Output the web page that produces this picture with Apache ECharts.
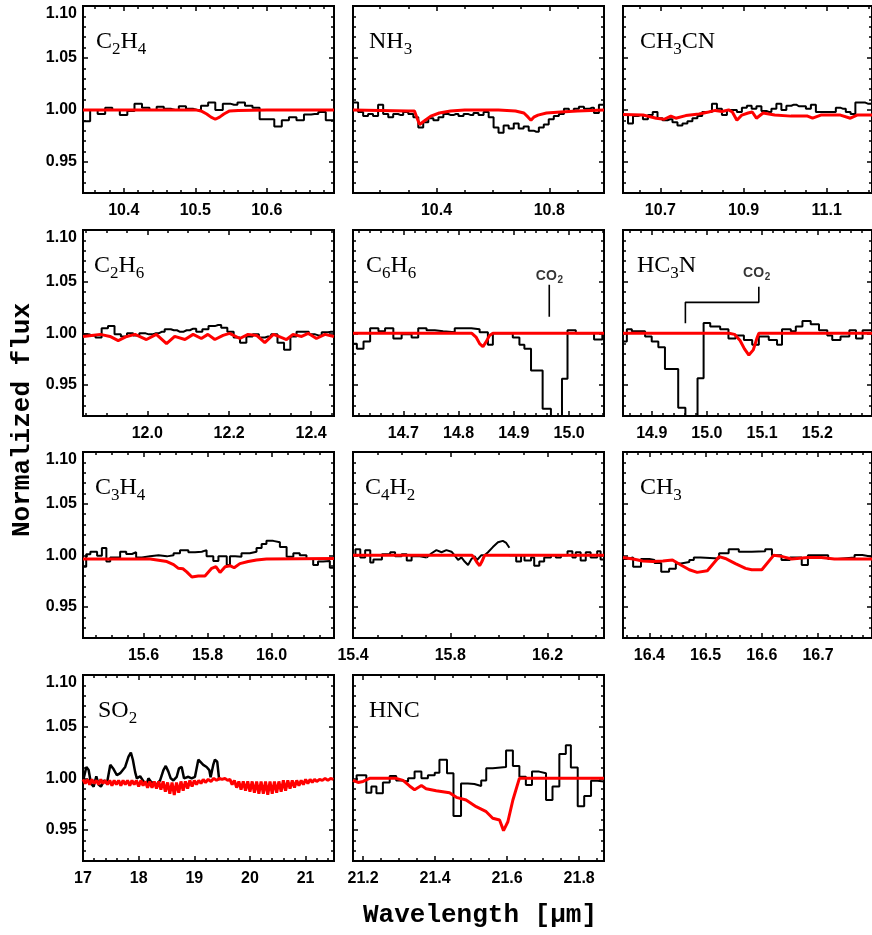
<!DOCTYPE html>
<html>
<head>
<meta charset="utf-8">
<script src="https://cdn.jsdelivr.net/npm/echarts@6/dist/echarts.min.js"></script>
<style>
html, body { margin: 0; padding: 0; background: #fff; }
#chart { width: 872px; height: 935px; }
</style>
</head>
<body>
<div id="chart"></div>
<script>
// ---------- shared flux axis ----------
const yRange = [0.92, 1.10];
const yTicks = [0.95, 1.00, 1.05, 1.10];

// ---------- C2H4 ----------
const c2h4Range = [10.343, 10.694];
const c2h4Ticks = [10.4, 10.5, 10.6];
const c2h4Wave = [10.343, 10.348, 10.358, 10.369, 10.379, 10.389, 10.400, 10.410, 10.420, 10.431, 10.441, 10.451, 10.461, 10.472, 10.482, 10.492, 10.503, 10.513, 10.523, 10.533, 10.544, 10.554, 10.564, 10.575, 10.585, 10.595, 10.605, 10.616, 10.626, 10.636, 10.647, 10.657, 10.667, 10.677, 10.688, 10.694];
const c2h4Flux = [0.989, 0.989, 1.000, 0.996, 1.002, 1.000, 0.995, 0.999, 1.006, 1.002, 1.000, 1.003, 1.001, 1.000, 1.0035, 1.001, 1.000, 1.004, 1.007, 1.000, 1.006, 1.005, 1.007, 1.004, 1.002, 0.991, 0.991, 0.984, 0.990, 0.993, 0.990, 0.9955, 0.996, 0.998, 0.990, 0.990];
const c2h4ModelWave = [10.343, 10.500, 10.508, 10.516, 10.522, 10.528, 10.534, 10.540, 10.548, 10.560, 10.600, 10.694];
const c2h4Model = [1.000, 1.000, 0.999, 0.996, 0.993, 0.991, 0.993, 0.996, 0.999, 0.9995, 1.000, 1.000];

// ---------- NH3 ----------
const nh3Range = [10.104, 10.994];
const nh3Ticks = [10.4, 10.8];
const nh3Wave = [10.104, 10.113, 10.131, 10.149, 10.166, 10.184, 10.202, 10.220, 10.238, 10.255, 10.273, 10.291, 10.309, 10.327, 10.344, 10.362, 10.380, 10.398, 10.416, 10.433, 10.451, 10.469, 10.487, 10.505, 10.522, 10.540, 10.558, 10.576, 10.594, 10.611, 10.629, 10.647, 10.665, 10.683, 10.700, 10.718, 10.736, 10.754, 10.772, 10.789, 10.807, 10.825, 10.843, 10.861, 10.878, 10.896, 10.914, 10.932, 10.950, 10.967, 10.985, 10.994];
const nh3Flux = [1.007, 1.007, 0.998, 0.994, 0.996, 0.994, 1.005, 0.996, 0.993, 0.996, 0.995, 0.998, 0.996, 0.993, 0.983, 0.988, 0.992, 0.990, 0.993, 0.996, 0.995, 0.996, 0.994, 0.996, 0.995, 0.997, 0.995, 0.998, 0.993, 0.983, 0.978, 0.985, 0.982, 0.987, 0.982, 0.984, 0.980, 0.979, 0.983, 0.986, 0.991, 0.994, 0.996, 1.001, 0.999, 1.001, 1.003, 1.001, 1.002, 0.997, 1.005, 1.005];
const nh3ModelWave = [10.104, 10.200, 10.300, 10.322, 10.330, 10.340, 10.347, 10.360, 10.380, 10.410, 10.450, 10.500, 10.620, 10.680, 10.710, 10.725, 10.735, 10.745, 10.760, 10.790, 10.840, 10.900, 10.994];
const nh3Model = [1.000, 0.9995, 0.999, 0.999, 0.993, 0.986, 0.985, 0.990, 0.994, 0.997, 0.999, 1.000, 1.000, 0.999, 0.997, 0.993, 0.990, 0.993, 0.995, 0.997, 0.998, 0.999, 1.000];

// ---------- CH3CN ----------
const ch3cnRange = [10.610, 11.209];
const ch3cnTicks = [10.7, 10.9, 11.1];
const ch3cnWave = [10.610, 10.616, 10.628, 10.640, 10.652, 10.664, 10.676, 10.687, 10.699, 10.711, 10.723, 10.735, 10.747, 10.759, 10.771, 10.783, 10.795, 10.806, 10.818, 10.830, 10.842, 10.854, 10.866, 10.878, 10.890, 10.902, 10.914, 10.925, 10.937, 10.949, 10.961, 10.973, 10.985, 10.997, 11.009, 11.021, 11.033, 11.044, 11.056, 11.068, 11.080, 11.092, 11.104, 11.116, 11.128, 11.140, 11.152, 11.163, 11.175, 11.187, 11.199, 11.209];
const ch3cnFlux = [0.995, 0.995, 0.987, 0.994, 0.995, 0.991, 0.995, 0.998, 0.992, 0.990, 0.991, 0.988, 0.985, 0.987, 0.989, 0.992, 0.994, 0.998, 0.998, 1.006, 1.001, 0.995, 1.000, 1.000, 0.998, 1.002, 1.004, 1.001, 1.0035, 0.999, 0.998, 1.001, 1.006, 1.000, 1.004, 1.005, 1.0035, 1.0035, 1.001, 1.005, 0.998, 0.998, 0.998, 0.998, 1.002, 1.001, 0.998, 0.996, 1.007, 1.007, 1.006, 1.006];
const ch3cnModelWave = [10.610, 10.658, 10.690, 10.709, 10.725, 10.737, 10.761, 10.793, 10.816, 10.832, 10.848, 10.864, 10.873, 10.884, 10.896, 10.911, 10.921, 10.931, 10.947, 10.975, 11.014, 11.054, 11.066, 11.086, 11.133, 11.157, 11.173, 11.209];
const ch3cnModel = [0.9955, 0.995, 0.992, 0.991, 0.994, 0.992, 0.9945, 0.996, 0.998, 0.9995, 0.9985, 1.000, 0.998, 0.990, 0.995, 0.997, 0.998, 0.992, 0.997, 0.995, 0.994, 0.994, 0.992, 0.995, 0.995, 0.992, 0.995, 0.995];

// ---------- C2H6 ----------
const c2h6Range = [11.843, 12.456];
const c2h6Ticks = [12.0, 12.2, 12.4];
const c2h6Wave = [11.843, 11.851, 11.866, 11.881, 11.896, 11.912, 11.928, 11.943, 11.958, 11.973, 11.988, 12.004, 12.020, 12.035, 12.050, 12.065, 12.080, 12.096, 12.112, 12.127, 12.142, 12.157, 12.173, 12.188, 12.203, 12.219, 12.234, 12.250, 12.265, 12.280, 12.295, 12.310, 12.326, 12.342, 12.357, 12.372, 12.387, 12.402, 12.418, 12.434, 12.449, 12.456];
const c2h6Flux = [0.999, 0.999, 0.998, 0.996, 1.005, 1.007, 0.999, 0.997, 1.000, 0.998, 1.000, 0.999, 1.000, 1.0015, 1.004, 1.003, 1.0015, 1.003, 1.0045, 1.0015, 1.004, 1.007, 1.008, 1.0055, 1.0015, 0.996, 0.991, 0.997, 0.999, 0.996, 0.997, 0.999, 0.991, 0.984, 0.997, 1.0015, 1.0015, 0.999, 0.998, 1.001, 1.0015, 1.0015];
const c2h6ModelWave = [11.843, 11.864, 11.885, 11.909, 11.929, 11.950, 11.970, 11.998, 12.022, 12.047, 12.067, 12.092, 12.112, 12.132, 12.148, 12.165, 12.185, 12.201, 12.226, 12.246, 12.267, 12.287, 12.308, 12.327, 12.340, 12.356, 12.377, 12.393, 12.413, 12.434, 12.456];
const c2h6Model = [0.997, 0.998, 0.999, 0.997, 0.993, 0.997, 0.999, 0.994, 0.999, 0.990, 0.997, 0.994, 0.999, 0.995, 0.999, 0.994, 0.998, 1.000, 0.995, 0.999, 0.998, 0.991, 0.999, 0.996, 0.994, 0.999, 0.997, 1.000, 0.995, 0.999, 0.997];

// ---------- C6H6 ----------
const c6h6Range = [14.609, 15.063];
const c6h6Ticks = [14.7, 14.8, 14.9, 15.0];
const c6h6Wave = [14.609, 14.616, 14.628, 14.640, 14.655, 14.667, 14.682, 14.697, 14.715, 14.727, 14.742, 14.757, 14.772, 14.793, 14.823, 14.838, 14.853, 14.862, 14.898, 14.910, 14.919, 14.931, 14.952, 14.967, 14.987, 14.997, 15.012, 15.045, 15.060, 15.063];
const c6h6Flux = [0.990, 0.985, 0.992, 1.005, 1.002, 1.005, 0.995, 0.999, 0.996, 1.005, 1.003, 1.002, 1.001, 1.005, 1.004, 1.001, 0.989, 1.000, 0.996, 0.989, 0.985, 0.964, 0.927, 0.880, 0.956, 1.003, 1.000, 0.994, 1.000, 1.000];
const c6h6ModelWave = [14.609, 14.824, 14.832, 14.838, 14.844, 14.850, 14.856, 14.862, 15.063];
const c6h6Model = [1.000, 1.000, 0.996, 0.990, 0.987, 0.992, 0.998, 1.000, 1.000];
const c6h6Co2Wave = [14.964, 14.964];
const c6h6Co2Flux = [1.016, 1.047];
const c6h6Co2Label = [14.964, 1.055];

// ---------- HC3N ----------
const hc3nRange = [14.848, 15.299];
const hc3nTicks = [14.9, 15.0, 15.1, 15.2];
const hc3nWave = [14.848, 14.855, 14.864, 14.888, 14.900, 14.912, 14.924, 14.948, 14.961, 14.983, 14.994, 15.006, 15.024, 15.039, 15.052, 15.067, 15.082, 15.094, 15.112, 15.127, 15.136, 15.152, 15.161, 15.173, 15.188, 15.203, 15.218, 15.227, 15.242, 15.258, 15.270, 15.282, 15.299];
const hc3nFlux = [0.992, 1.004, 1.002, 0.997, 0.992, 0.9865, 0.9655, 0.928, 0.880, 0.9565, 1.010, 1.0065, 1.004, 0.995, 0.998, 0.9935, 0.989, 0.997, 0.9935, 0.989, 1.004, 1.002, 1.0065, 1.012, 1.0087, 1.003, 0.998, 0.9935, 0.997, 1.003, 0.995, 1.003, 1.003];
const hc3nModelWave = [14.848, 15.040, 15.050, 15.060, 15.068, 15.076, 15.084, 15.091, 15.094, 15.299];
const hc3nModel = [1.000, 1.000, 0.999, 0.993, 0.985, 0.979, 0.984, 0.996, 1.000, 1.000];
const hc3nCo2Wave = [14.961, 14.961, 15.094, 15.094];
const hc3nCo2Flux = [1.0097, 1.030, 1.030, 1.045];
const hc3nCo2Label = [15.090, 1.058];

// ---------- C3H4 ----------
const c3h4Range = [15.411, 16.195];
const c3h4Ticks = [15.6, 15.8, 16.0];
const c3h4Wave = [15.411, 15.421, 15.434, 15.455, 15.470, 15.484, 15.496, 15.527, 15.546, 15.564, 15.577, 15.595, 15.620, 15.647, 15.673, 15.694, 15.714, 15.740, 15.761, 15.782, 15.797, 15.818, 15.834, 15.860, 15.870, 15.886, 15.906, 15.932, 15.953, 15.969, 15.984, 16.005, 16.026, 16.047, 16.068, 16.088, 16.109, 16.130, 16.145, 16.161, 16.182, 16.195];
const c3h4Flux = [0.989, 1.001, 1.0035, 0.9995, 1.007, 0.994, 0.998, 1.0035, 1.0013, 1.003, 0.998, 0.999, 1.000, 0.999, 1.000, 1.002, 1.005, 1.003, 1.0035, 1.005, 0.999, 0.9945, 0.999, 0.9906, 0.999, 0.9987, 1.002, 1.0035, 1.007, 1.011, 1.014, 1.0126, 1.008, 0.9987, 1.002, 1.000, 0.9965, 0.9906, 0.994, 0.9945, 0.988, 0.988];
const c3h4ModelWave = [15.411, 15.621, 15.642, 15.673, 15.694, 15.709, 15.723, 15.735, 15.751, 15.771, 15.792, 15.813, 15.826, 15.839, 15.855, 15.870, 15.883, 15.901, 15.927, 15.953, 15.984, 16.195];
const c3h4Model = [0.9965, 0.9965, 0.9955, 0.994, 0.991, 0.9874, 0.987, 0.984, 0.979, 0.980, 0.980, 0.9874, 0.989, 0.9835, 0.989, 0.990, 0.988, 0.992, 0.994, 0.9955, 0.9965, 0.997];

// ---------- C4H2 ----------
const c4h2Range = [15.400, 16.432];
const c4h2Ticks = [15.4, 15.8, 16.2];
const c4h2BlueWave = [15.400, 15.410, 15.430, 15.450, 15.471, 15.484, 15.519, 15.553, 15.573, 15.600, 15.621, 15.641, 15.675, 15.703];
const c4h2BlueFlux = [1.000, 1.006, 0.998, 1.005, 0.993, 0.996, 1.001, 1.003, 0.999, 1.001, 0.995, 0.999, 0.998, 0.998];
const c4h2MidWave = [15.703, 15.723, 15.743, 15.764, 15.784, 15.805, 15.818, 15.832, 15.846, 15.859, 15.873, 15.887, 15.900, 15.910, 15.927, 15.941, 15.955, 15.975, 15.996, 16.016, 16.030, 16.043];
const c4h2MidFlux = [0.998, 1.002, 1.005, 1.003, 1.005, 1.0035, 1.000, 0.9955, 0.998, 0.994, 0.9906, 0.9965, 0.999, 0.9955, 1.000, 1.000, 1.003, 1.008, 1.0126, 1.014, 1.012, 1.0074];
const c4h2RedWave = [16.043, 16.071, 16.091, 16.105, 16.132, 16.145, 16.166, 16.186, 16.214, 16.234, 16.255, 16.282, 16.302, 16.316, 16.336, 16.357, 16.377, 16.404, 16.418, 16.432];
const c4h2RedFlux = [1.000, 0.994, 1.000, 0.995, 0.998, 0.990, 0.994, 0.998, 1.000, 0.998, 1.000, 1.004, 0.998, 1.003, 0.995, 1.003, 0.998, 1.004, 0.996, 0.996];
const c4h2ModelWave = [15.400, 15.890, 15.900, 15.910, 15.921, 15.930, 15.941, 16.432];
const c4h2Model = [1.000, 1.000, 0.997, 0.993, 0.990, 0.994, 1.000, 1.000];

// ---------- CH3 ----------
const ch3Range = [16.353, 16.796];
const ch3Ticks = [16.4, 16.5, 16.6, 16.7];
const ch3Wave = [16.353, 16.359, 16.371, 16.385, 16.400, 16.409, 16.421, 16.435, 16.447, 16.456, 16.471, 16.479, 16.491, 16.524, 16.541, 16.559, 16.582, 16.606, 16.618, 16.635, 16.650, 16.671, 16.682, 16.718, 16.735, 16.765, 16.779, 16.796];
const ch3Flux = [0.9965, 0.998, 0.989, 0.9965, 0.9955, 0.9925, 0.984, 0.987, 0.992, 0.9935, 0.9955, 0.998, 0.997, 1.002, 1.006, 1.0035, 1.004, 1.006, 1.000, 0.9955, 0.998, 0.9906, 1.000, 0.9965, 0.998, 1.0003, 0.9987, 0.9987];
const ch3ModelWave = [16.353, 16.371, 16.388, 16.406, 16.424, 16.441, 16.456, 16.471, 16.485, 16.503, 16.524, 16.535, 16.553, 16.571, 16.582, 16.600, 16.621, 16.635, 16.653, 16.682, 16.706, 16.729, 16.753, 16.796];
const ch3Model = [0.998, 0.9965, 0.9945, 0.994, 0.9945, 0.9955, 0.9906, 0.986, 0.9835, 0.985, 0.9987, 0.997, 0.992, 0.9874, 0.986, 0.986, 1.000, 0.999, 0.9965, 0.998, 0.998, 0.9965, 0.9965, 0.9965];

// ---------- SO2 ----------
const so2Range = [17.0, 21.51];
const so2Ticks = [17, 18, 19, 20, 21];
const so2Wave = [17.000, 17.060, 17.101, 17.143, 17.191, 17.239, 17.281, 17.322, 17.382, 17.430, 17.490, 17.549, 17.609, 17.669, 17.758, 17.818, 17.860, 17.896, 17.937, 17.967, 18.027, 18.087, 18.146, 18.176, 18.218, 18.266, 18.325, 18.385, 18.445, 18.487, 18.534, 18.576, 18.624, 18.684, 18.725, 18.773, 18.815, 18.893, 18.952, 19.012, 19.072, 19.101, 19.161, 19.221, 19.269, 19.293, 19.340, 19.370, 19.412, 19.448];
const so2Flux = [0.997, 1.011, 1.008, 0.995, 0.992, 1.002, 0.994, 0.992, 0.998, 0.995, 1.013, 1.009, 1.003, 1.005, 1.011, 1.021, 1.025, 1.018, 1.006, 1.000, 1.002, 0.997, 0.995, 1.000, 0.997, 0.995, 0.994, 0.998, 1.008, 1.012, 1.0065, 1.000, 0.998, 1.0015, 1.0097, 1.011, 1.000, 1.0015, 1.000, 1.0015, 1.018, 1.019, 1.013, 1.011, 1.008, 1.001, 1.013, 1.018, 1.016, 0.998];
const so2ModelWave = [17.00, 17.04, 17.08, 17.12, 17.16, 17.20, 17.24, 17.28, 17.32, 17.36, 17.40, 17.44, 17.48, 17.52, 17.56, 17.60, 17.64, 17.68, 17.72, 17.76, 17.80, 17.84, 17.88, 17.92, 17.96, 18.00, 18.04, 18.08, 18.12, 18.16, 18.20, 18.24, 18.28, 18.32, 18.36, 18.40, 18.44, 18.48, 18.52, 18.56, 18.60, 18.64, 18.68, 18.72, 18.76, 18.80, 18.84, 18.88, 18.92, 18.96, 19.00, 19.04, 19.08, 19.12, 19.16, 19.20, 19.25, 19.30, 19.35, 19.40, 19.45, 19.50, 19.55, 19.60, 19.64, 19.68, 19.72, 19.76, 19.80, 19.84, 19.88, 19.92, 19.96, 20.00, 20.04, 20.08, 20.12, 20.16, 20.20, 20.24, 20.28, 20.32, 20.36, 20.40, 20.44, 20.48, 20.52, 20.56, 20.60, 20.64, 20.68, 20.72, 20.76, 20.80, 20.84, 20.88, 20.92, 20.96, 21.00, 21.04, 21.08, 21.12, 21.16, 21.20, 21.25, 21.30, 21.35, 21.40, 21.45, 21.50];
const so2Model = [0.999, 0.995, 0.999, 0.994, 0.999, 0.995, 0.998, 0.994, 0.999, 0.995, 0.998, 0.994, 0.998, 0.993, 0.998, 0.994, 0.998, 0.993, 0.998, 0.994, 0.998, 0.993, 0.998, 0.994, 0.998, 0.992, 0.998, 0.993, 0.997, 0.991, 0.997, 0.991, 0.997, 0.990, 0.997, 0.989, 0.997, 0.987, 0.996, 0.985, 0.996, 0.984, 0.996, 0.986, 0.997, 0.988, 0.997, 0.990, 0.998, 0.992, 0.998, 0.994, 0.998, 0.995, 0.999, 0.996, 0.999, 0.997, 1.000, 0.998, 1.000, 0.999, 1.000, 0.998, 0.999, 0.994, 0.998, 0.991, 0.997, 0.989, 0.997, 0.988, 0.997, 0.987, 0.997, 0.986, 0.997, 0.985, 0.997, 0.985, 0.997, 0.984, 0.997, 0.985, 0.997, 0.986, 0.997, 0.987, 0.998, 0.988, 0.998, 0.990, 0.998, 0.991, 0.998, 0.993, 0.998, 0.994, 0.999, 0.995, 0.999, 0.996, 0.999, 0.997, 0.999, 0.998, 1.000, 0.998, 1.000, 0.999];

// ---------- HNC ----------
const hncRange = [21.172, 21.869];
const hncTicks = [21.2, 21.4, 21.6, 21.8];
const hncWave = [21.172, 21.182, 21.209, 21.223, 21.237, 21.255, 21.274, 21.292, 21.306, 21.325, 21.343, 21.362, 21.380, 21.399, 21.412, 21.433, 21.451, 21.472, 21.491, 21.509, 21.528, 21.542, 21.560, 21.597, 21.616, 21.634, 21.652, 21.669, 21.689, 21.708, 21.726, 21.745, 21.763, 21.777, 21.796, 21.814, 21.833, 21.851, 21.869];
const hncFlux = [0.997, 1.003, 0.986, 0.992, 0.9855, 0.996, 1.0023, 0.998, 0.997, 1.000, 1.0065, 1.000, 1.003, 1.0055, 1.018, 1.005, 0.9635, 0.995, 0.9945, 0.9926, 0.998, 1.0097, 1.011, 1.027, 1.012, 1.0016, 0.9935, 1.0065, 1.005, 0.979, 0.992, 1.0235, 1.032, 1.0106, 0.973, 0.983, 0.9977, 0.997, 0.997];
const hncModelWave = [21.172, 21.186, 21.200, 21.218, 21.292, 21.311, 21.329, 21.343, 21.362, 21.375, 21.403, 21.440, 21.459, 21.486, 21.514, 21.542, 21.560, 21.579, 21.590, 21.602, 21.616, 21.634, 21.869];
const hncModel = [0.998, 0.996, 0.997, 1.000, 1.000, 0.998, 0.9926, 0.989, 0.993, 0.990, 0.988, 0.986, 0.9816, 0.979, 0.9726, 0.9677, 0.9613, 0.9597, 0.9494, 0.958, 0.979, 1.000, 1.000];

// ---------- panel layout ----------
const colLeft = [83, 353, 623];
const rowTop = [6, 230, 452, 675];
const rowHeight = [187, 186, 186, 186];
const panelWidth = 251;

// molecule names: "_" marks the following digit as a subscript
const panels = [
  { name: 'C_2H_4', labelX: 96, col: 0, row: 0, range: c2h4Range, ticks: c2h4Ticks, minor: 0.02, digits: 1,
    lines: [[c2h4Wave, c2h4Flux, 'middle']], model: [c2h4ModelWave, c2h4Model] },
  { name: 'NH_3', labelX: 369, col: 1, row: 0, range: nh3Range, ticks: nh3Ticks, minor: 0.1, digits: 1,
    lines: [[nh3Wave, nh3Flux, 'middle']], model: [nh3ModelWave, nh3Model] },
  { name: 'CH_3CN', labelX: 640, col: 2, row: 0, range: ch3cnRange, ticks: ch3cnTicks, minor: 0.05, digits: 1,
    lines: [[ch3cnWave, ch3cnFlux, 'middle']], model: [ch3cnModelWave, ch3cnModel] },
  { name: 'C_2H_6', labelX: 94, col: 0, row: 1, range: c2h6Range, ticks: c2h6Ticks, minor: 0.05, digits: 1,
    lines: [[c2h6Wave, c2h6Flux, 'middle']], model: [c2h6ModelWave, c2h6Model] },
  { name: 'C_6H_6', labelX: 366, col: 1, row: 1, range: c6h6Range, ticks: c6h6Ticks, minor: 0.02, digits: 1,
    lines: [[c6h6Wave, c6h6Flux, 'end']], model: [c6h6ModelWave, c6h6Model],
    co2: { wave: c6h6Co2Wave, flux: c6h6Co2Flux, label: c6h6Co2Label } },
  { name: 'HC_3N', labelX: 637, col: 2, row: 1, range: hc3nRange, ticks: hc3nTicks, minor: 0.02, digits: 1,
    lines: [[hc3nWave, hc3nFlux, 'end']], model: [hc3nModelWave, hc3nModel],
    co2: { wave: hc3nCo2Wave, flux: hc3nCo2Flux, label: hc3nCo2Label } },
  { name: 'C_3H_4', labelX: 95, col: 0, row: 2, range: c3h4Range, ticks: c3h4Ticks, minor: 0.05, digits: 1,
    lines: [[c3h4Wave, c3h4Flux, 'end']], model: [c3h4ModelWave, c3h4Model] },
  { name: 'C_4H_2', labelX: 365, col: 1, row: 2, range: c4h2Range, ticks: c4h2Ticks, minor: 0.1, digits: 1,
    lines: [[c4h2BlueWave, c4h2BlueFlux, 'end'], [c4h2MidWave, c4h2MidFlux, false], [c4h2RedWave, c4h2RedFlux, 'end']],
    model: [c4h2ModelWave, c4h2Model] },
  { name: 'CH_3', labelX: 640, col: 2, row: 2, range: ch3Range, ticks: ch3Ticks, minor: 0.02, digits: 1,
    lines: [[ch3Wave, ch3Flux, 'end']], model: [ch3ModelWave, ch3Model] },
  { name: 'SO_2', labelX: 98, col: 0, row: 3, range: so2Range, ticks: so2Ticks, minor: 0.2, digits: 0,
    lines: [[so2Wave, so2Flux, false]], model: [so2ModelWave, so2Model], blackWidth: 2.5 },
  { name: 'HNC', labelX: 369, col: 1, row: 3, range: hncRange, ticks: hncTicks, minor: 0.05, digits: 1,
    lines: [[hncWave, hncFlux, 'end']], model: [hncModelWave, hncModel] }
];

// ---------- helpers ----------
const tickFont = { color: '#000', fontFamily: 'Liberation Sans', fontWeight: 'bold', fontSize: 16 };
const nameFont = { family: 'Liberation Serif', main: 24, sub: 17, subDrop: 8 };

const measureCtx = document.createElement('canvas').getContext('2d');
function textWidth(str, size) {
  measureCtx.font = size + 'px "' + nameFont.family + '"';
  return measureCtx.measureText(str).width;
}

// split "C_2H_4" into runs of normal text and subscript digits
function formulaRuns(str) {
  const runs = [];
  for (let i = 0; i < str.length; i++) {
    if (str[i] === '_') { runs.push({ t: str[i + 1], sub: true }); i++; }
    else if (runs.length && !runs[runs.length - 1].sub) runs[runs.length - 1].t += str[i];
    else runs.push({ t: str[i], sub: false });
  }
  return runs;
}

function minorValues(range, step) {
  const out = [];
  const start = Math.ceil(range[0] / step - 1e-9);
  const end = Math.floor(range[1] / step + 1e-9);
  for (let k = start; k <= end; k++) out.push(+(k * step).toFixed(4));
  return out;
}

function makeAxis(gridIndex, position, range, values, len, showLabels, formatter, isY) {
  const ax = {
    type: 'value', gridIndex, position, min: range[0], max: range[1],
    axisLine: { show: false, onZero: false },
    splitLine: { show: false },
    axisTick: { show: true, inside: true, length: len, customValues: values,
                lineStyle: { color: '#000', width: 1.5 } },
    axisLabel: Object.assign({ show: showLabels, customValues: values, formatter,
                margin: isY ? 6 : 10 }, tickFont)
  };
  if (isY) ax.axisLabel.verticalAlignMaxLabel = 'top';
  return ax;
}

function pairs(xs, ys) { return xs.map((x, i) => [x, ys[i]]); }

const co2Main = { fontFamily: 'Liberation Sans', fontWeight: 'bold', fontSize: 14, color: '#000' };
const co2Sub = { fontFamily: 'Liberation Sans', fontWeight: 'bold', fontSize: 10, color: '#000' };

const grids = [], xAxes = [], yAxes = [], series = [], graphics = [];

panels.forEach((p, gi) => {
  const left = colLeft[p.col], top = rowTop[p.row], height = rowHeight[p.row];
  grids.push({ left, top, width: panelWidth, height, show: true,
               borderColor: '#000', borderWidth: 2, backgroundColor: 'transparent' });

  const xFmt = v => v.toFixed(p.digits);
  const yFmt = v => v.toFixed(2);
  const xMinor = minorValues(p.range, p.minor);
  const yMinor = minorValues(yRange, 0.01);

  const xi = xAxes.length;
  xAxes.push(makeAxis(gi, 'bottom', p.range, p.ticks, 5, true, xFmt, false));
  xAxes.push(makeAxis(gi, 'bottom', p.range, xMinor, 3, false, xFmt, false));
  xAxes.push(makeAxis(gi, 'top', p.range, p.ticks, 5, false, xFmt, false));
  xAxes.push(makeAxis(gi, 'top', p.range, xMinor, 3, false, xFmt, false));

  const yi = yAxes.length;
  yAxes.push(makeAxis(gi, 'left', yRange, yTicks, 5, p.col === 0, yFmt, true));
  yAxes.push(makeAxis(gi, 'left', yRange, yMinor, 3, false, yFmt, true));
  yAxes.push(makeAxis(gi, 'right', yRange, yTicks, 5, false, yFmt, true));
  yAxes.push(makeAxis(gi, 'right', yRange, yMinor, 3, false, yFmt, true));

  p.lines.forEach(([w, f, step]) => {
    series.push({ type: 'line', xAxisIndex: xi, yAxisIndex: yi, data: pairs(w, f),
      step: step, symbol: 'none', silent: true, z: 2,
      lineStyle: { color: '#000', width: p.blackWidth || 2 } });
  });
  series.push({ type: 'line', xAxisIndex: xi, yAxisIndex: yi, data: pairs(p.model[0], p.model[1]),
    symbol: 'none', silent: true, z: 3, lineStyle: { color: '#ff0000', width: 3 } });

  if (p.co2) {
    series.push({ type: 'line', xAxisIndex: xi, yAxisIndex: yi, data: pairs(p.co2.wave, p.co2.flux),
      symbol: 'none', silent: true, z: 2, lineStyle: { color: '#000', width: 1.6 } });
    series.push({ type: 'scatter', xAxisIndex: xi, yAxisIndex: yi, symbolSize: 0, silent: true, z: 4,
      data: [
        { value: p.co2.label, label: Object.assign({ show: true, position: 'inside', formatter: 'CO', offset: [-3, 0] }, co2Main) },
        { value: p.co2.label, label: Object.assign({ show: true, position: 'inside', formatter: '2', offset: [11, 4] }, co2Sub) }
      ] });
  }

  // molecule name, with lowered subscript digits
  let x = p.labelX;
  const cy = top + 36;
  formulaRuns(p.name).forEach(run => {
    const size = run.sub ? nameFont.sub : nameFont.main;
    graphics.push({ type: 'text', x, y: run.sub ? cy + nameFont.subDrop : cy, silent: true,
      style: { text: run.t, fontFamily: nameFont.family, fontSize: size,
               fill: '#000', align: 'left', verticalAlign: 'middle' } });
    x += textWidth(run.t, size);
  });
});

graphics.push({ type: 'text', x: 22, y: 420, rotation: Math.PI / 2, silent: true,
  style: { text: 'Normalized flux', align: 'center', verticalAlign: 'middle',
    fontFamily: 'Liberation Mono', fontWeight: 'bold', fontSize: 26, fill: '#000' } });
graphics.push({ type: 'text', x: 480, y: 915, silent: true,
  style: { text: 'Wavelength [μm]', align: 'center', verticalAlign: 'middle',
    fontFamily: 'Liberation Mono', fontWeight: 'bold', fontSize: 26, fill: '#000' } });

const chart = echarts.init(document.getElementById('chart'), null, { renderer: 'canvas' });
chart.setOption({
  animation: false,
  backgroundColor: '#fff',
  grid: grids,
  xAxis: xAxes,
  yAxis: yAxes,
  series: series,
  graphic: graphics
});
</script>
</body>
</html>
